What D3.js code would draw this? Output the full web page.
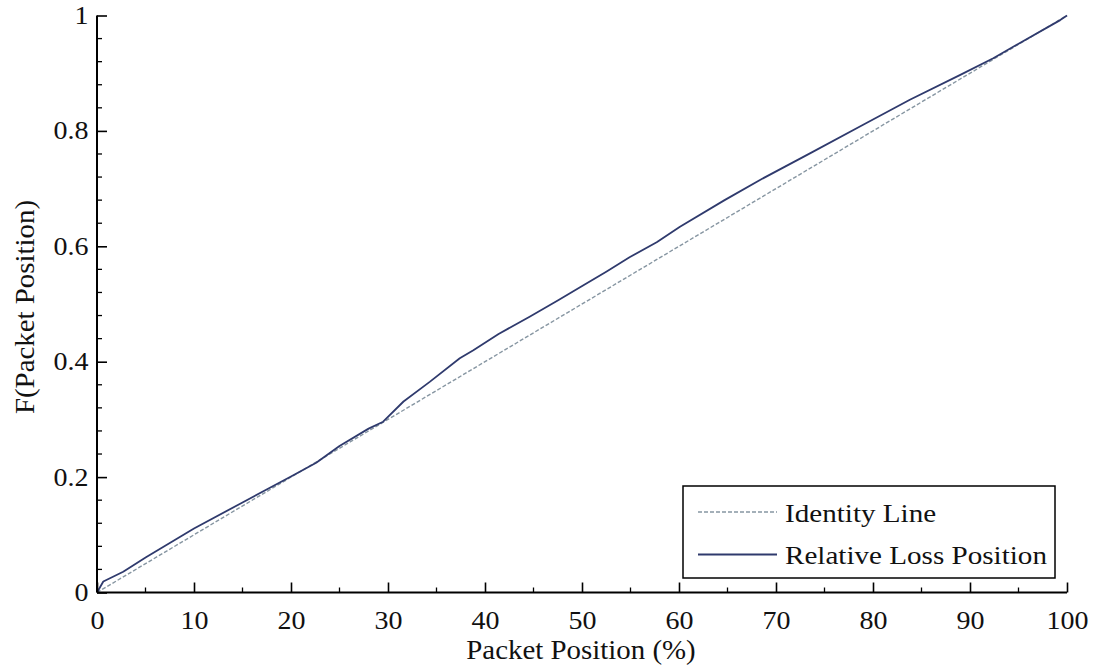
<!DOCTYPE html>
<html>
<head>
<meta charset="utf-8">
<script src="https://cdn.jsdelivr.net/npm/d3@7"></script>
<style>
  html, body { margin: 0; padding: 0; background: #fff; }
  svg { display: block; }
  text { font-family: "Liberation Serif", "DejaVu Serif", serif; fill: #111; }
</style>
</head>
<body>
<svg id="chart" width="1098" height="665"></svg>
<script>
// Packet position (%) vs. cumulative fraction of losses
const lossPosition = [0, 0.65, 2.7, 5.05, 10, 15, 20, 22.6, 25, 28, 29.5, 31.6, 34.3, 37.4, 38.8, 41.4, 44.6, 47.5, 49.8, 52.5, 54.9, 57.7, 60.1, 64.7, 68.35, 73.5, 78.7, 83.8, 89, 92.4, 95.1, 99.3, 100];
const lossCdf      = [0, 0.019, 0.036, 0.061, 0.111, 0.156, 0.201, 0.225, 0.254, 0.284, 0.296, 0.331, 0.365, 0.406, 0.420, 0.448, 0.478, 0.506, 0.529, 0.556, 0.581, 0.607, 0.634, 0.680, 0.715, 0.761, 0.808, 0.854, 0.897, 0.926, 0.952, 0.992, 1];
const identityX = [0, 100];
const identityY = [0, 1];

const xMajor = [0, 10, 20, 30, 40, 50, 60, 70, 80, 90, 100];
const yMajor = [0, 0.2, 0.4, 0.6, 0.8, 1];
const legendLabels = ["Identity Line", "Relative Loss Position"];

const svg = d3.select("#chart");
const x = d3.scaleLinear().domain([0, 100]).range([97, 1067]);
const y = d3.scaleLinear().domain([0, 1]).range([592.5, 15.5]);

const curveColor = "#2f3a6d";
const identityColor = "#8796a2";
const digitStretch = 1.12;  // wide book-face numerals
const titleStretch = 1.07;
const legendStretch = 1.12;

// series
const line = d3.line().x(d => x(d[0])).y(d => y(d[1]));
svg.append("path")
  .datum(identityX.map((v, i) => [v, identityY[i]]))
  .attr("d", line)
  .attr("fill", "none")
  .attr("stroke", identityColor)
  .attr("stroke-width", 1.4)
  .attr("stroke-dasharray", "4,2");
svg.append("path")
  .datum(lossPosition.map((v, i) => [v, lossCdf[i]]))
  .attr("d", line)
  .attr("fill", "none")
  .attr("stroke", curveColor)
  .attr("stroke-width", 1.8)
  .attr("stroke-linejoin", "round");

// axes: ticks point into the plot
const xMinor = d3.range(5, 100, 10);
const yMinor = d3.range(0, 1.0001, 0.04).filter(v => !yMajor.some(m => Math.abs(m - v) < 1e-6));

const xAxis = svg.append("g").attr("transform", `translate(0,${y(0)})`);
xAxis.call(d3.axisBottom(x).tickValues(xMajor).tickSize(-10).tickPadding(19).tickFormat(d3.format("d")));
xAxis.selectAll(".tick text")
  .attr("font-size", 25).attr("font-family", "Liberation Serif")
  .attr("transform", `scale(${digitStretch},1)`);
xAxis.append("g").selectAll("line").data(xMinor).join("line")
  .attr("x1", d => x(d)).attr("x2", d => x(d)).attr("y1", 0).attr("y2", -5)
  .attr("stroke", "#000").attr("stroke-width", 1.3);

const yAxis = svg.append("g").attr("transform", `translate(${x(0)},0)`);
yAxis.call(d3.axisLeft(y).tickValues(yMajor).tickSize(-10).tickPadding(9)
  .tickFormat(d => d === 0 || d === 1 ? d3.format("d")(d) : d3.format(".1f")(d)));
yAxis.selectAll(".tick text")
  .attr("font-size", 25).attr("font-family", "Liberation Serif")
  .attr("x", -8.5 / digitStretch)
  .attr("transform", `scale(${digitStretch},1)`);
yAxis.append("g").selectAll("line").data(yMinor).join("line")
  .attr("y1", d => y(d)).attr("y2", d => y(d)).attr("x1", 0).attr("x2", 5)
  .attr("stroke", "#000").attr("stroke-width", 1.3);

[xAxis, yAxis].forEach(a => {
  a.select(".domain").attr("stroke", "#000").attr("stroke-width", 2);
  a.selectAll(".tick line").attr("stroke", "#000").attr("stroke-width", 1.6);
  a.selectAll(".tick text").attr("fill", "#111");
});
xAxis.select(".domain").attr("d", `M${x(0)},0H${x(100)}`);
yAxis.select(".domain").attr("d", `M0,${y(0)}V${y(1)}`);

// axis titles
svg.append("text")
  .attr("transform", `translate(581,659) scale(${titleStretch},1)`)
  .attr("text-anchor", "middle")
  .attr("font-size", 27)
  .text("Packet Position (%)");
svg.append("text")
  .attr("transform", `translate(34,307) rotate(-90) scale(${titleStretch},1)`)
  .attr("text-anchor", "middle")
  .attr("font-size", 27)
  .text("F(Packet Position)");

// legend
const lg = svg.append("g");
lg.append("rect")
  .attr("x", 683).attr("y", 486).attr("width", 372).attr("height", 92)
  .attr("fill", "#fff").attr("stroke", "#000").attr("stroke-width", 1.5);
const rows = [
  { label: legendLabels[0], color: identityColor, dash: "4,2", w: 1.4 },
  { label: legendLabels[1], color: curveColor, dash: null, w: 1.8 }
];
rows.forEach((r, i) => {
  const cy = 512 + i * 42.5;
  lg.append("line")
    .attr("x1", 698).attr("x2", 777).attr("y1", cy).attr("y2", cy)
    .attr("stroke", r.color).attr("stroke-width", r.w)
    .attr("stroke-dasharray", r.dash);
  lg.append("text")
    .attr("transform", `translate(785,${cy + 9.5}) scale(${legendStretch},1)`)
    .attr("font-size", 26)
    .text(r.label);
});
</script>
</body>
</html>
